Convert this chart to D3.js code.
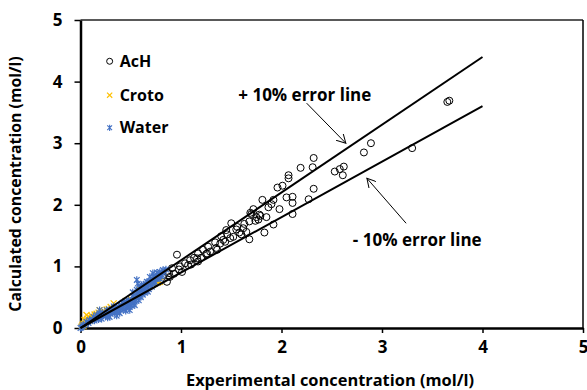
<!DOCTYPE html>
<html>
<head>
<meta charset="utf-8">
<script src="https://cdn.jsdelivr.net/npm/d3@7"></script>
<style>
  body { margin: 0; background: #fff; }
  svg text { font-family: "Open Sans", Lato, sans-serif; font-weight: bold; }
</style>
</head>
<body>
<div id="chart"></div>
<script>
// data (mol/l)
var achX = [3.65, 3.67, 3.30, 2.89, 2.82, 2.62, 2.58, 2.53, 2.61, 2.32, 2.31, 2.19, 2.32, 2.07, 2.07, 2.01, 1.96,
    2.11, 2.11, 2.27, 2.11, 1.92, 1.90, 1.87, 1.81, 1.92, 1.83, 1.72, 1.70, 1.79, 1.77, 1.68, 1.74, 1.63, 1.56,
    1.50, 1.58, 1.65, 1.45, 1.40, 1.49, 1.44, 1.68, 1.34, 1.27, 1.22, 1.26, 0.96, 1.69, 1.17, 1.09, 1.04, 0.99,
    0.91, 0.86, 0.82, 0.89, 1.01, 1.07, 1.16, 1.29, 1.39, 1.42, 0.86, 0.88, 0.98, 1.10, 1.17, 1.25, 1.35, 1.52,
    1.60, 1.55, 1.75, 1.85, 1.36, 1.20, 1.13, 0.93, 1.46, 1.62, 1.78, 1.98, 2.05];
var achY = [3.67, 3.69, 2.92, 3.00, 2.85, 2.62, 2.58, 2.54, 2.48, 2.76, 2.61, 2.60, 2.26, 2.48, 2.43, 2.31, 2.28,
    2.13, 2.03, 2.09, 1.85, 2.08, 2.01, 1.96, 2.08, 1.68, 1.55, 1.93, 1.85, 1.82, 1.76, 1.73, 1.74, 1.69, 1.64,
    1.70, 1.55, 1.56, 1.59, 1.49, 1.46, 1.40, 1.44, 1.39, 1.32, 1.27, 1.21, 1.19, 1.87, 1.21, 1.10, 1.05, 1.00,
    0.97, 0.91, 0.86, 0.83, 0.91, 1.02, 1.13, 1.24, 1.37, 1.43, 0.75, 0.89, 0.95, 1.03, 1.08, 1.20, 1.30, 1.48,
    1.52, 1.60, 1.80, 1.80, 1.27, 1.14, 1.14, 0.88, 1.52, 1.62, 1.84, 1.93, 2.12];

var crotoX = [0.01, 0.03, 0.04, 0.06, 0.05, 0.07, 0.08, 0.09, 0.10, 0.11, 0.12, 0.13, 0.14, 0.15, 0.16, 0.17, 0.18,
    0.19, 0.20, 0.22, 0.24, 0.26, 0.28, 0.33, 0.30, 0.45, 0.50, 0.55, 0.59, 0.62, 0.65, 0.69, 0.72, 0.77, 0.79,
    0.02, 0.03, 0.07, 0.11, 0.14, 0.21];
var crotoY = [0.02, 0.07, 0.13, 0.21, 0.10, 0.15, 0.18, 0.12, 0.16, 0.20, 0.17, 0.16, 0.22, 0.19, 0.23, 0.20, 0.25,
    0.29, 0.22, 0.27, 0.26, 0.30, 0.31, 0.40, 0.34, 0.44, 0.47, 0.52, 0.62, 0.60, 0.66, 0.70, 0.71, 0.74, 0.75,
    0.05, 0.03, 0.11, 0.14, 0.18, 0.24];

var waterX = [0.00, 0.03, 0.06, 0.09, 0.13, 0.16, 0.19, 0.23, 0.26, 0.29, 0.29, 0.33, 0.36, 0.39, 0.39, 0.43, 0.46,
    0.48, 0.49, 0.53, 0.54, 0.56, 0.56, 0.58, 0.59, 0.61, 0.62, 0.64, 0.66, 0.67, 0.69, 0.71, 0.72, 0.74, 0.76,
    0.77, 0.79, 0.82, 0.81, 0.05, 0.08, 0.10, 0.12, 0.15, 0.17, 0.20, 0.22, 0.24, 0.26, 0.28, 0.30, 0.31, 0.33,
    0.34, 0.35, 0.37, 0.38, 0.40, 0.41, 0.42, 0.44, 0.45, 0.46, 0.47, 0.48, 0.50, 0.51, 0.52, 0.53, 0.55, 0.56,
    0.57, 0.58, 0.60, 0.60, 0.62, 0.63, 0.65, 0.66, 0.68, 0.70, 0.71, 0.73, 0.75, 0.78, 0.80, 0.57, 0.52, 0.36,
    0.27, 0.21, 0.19, 0.01, 0.02, 0.14, 0.18, 0.25, 0.27, 0.32, 0.34, 0.37, 0.40, 0.43, 0.44, 0.47, 0.49, 0.50,
    0.54, 0.55, 0.58, 0.61, 0.63, 0.64, 0.67, 0.68, 0.70, 0.72, 0.74, 0.76, 0.79, 0.83, 0.85, 0.31, 0.42, 0.59,
    0.65, 0.53];
var waterY = [0.00, 0.05, 0.10, 0.13, 0.18, 0.21, 0.24, 0.21, 0.29, 0.29, 0.18, 0.35, 0.26, 0.37, 0.24, 0.40, 0.32,
    0.45, 0.29, 0.48, 0.37, 0.78, 0.62, 0.45, 0.56, 0.70, 0.54, 0.64, 0.75, 0.59, 0.83, 0.67, 0.89, 0.75, 0.86,
    0.81, 0.91, 0.94, 0.86, 0.06, 0.08, 0.11, 0.14, 0.15, 0.18, 0.19, 0.25, 0.22, 0.24, 0.26, 0.23, 0.31, 0.28,
    0.24, 0.32, 0.30, 0.34, 0.29, 0.36, 0.33, 0.38, 0.28, 0.42, 0.35, 0.39, 0.44, 0.36, 0.52, 0.41, 0.46, 0.50,
    0.55, 0.60, 0.50, 0.66, 0.58, 0.70, 0.61, 0.68, 0.72, 0.76, 0.80, 0.84, 0.80, 0.88, 0.84, 0.72, 0.58, 0.20,
    0.17, 0.15, 0.29, 0.01, 0.03, 0.12, 0.14, 0.19, 0.20, 0.25, 0.33, 0.27, 0.33, 0.30, 0.43, 0.40, 0.34, 0.41,
    0.43, 0.52, 0.51, 0.62, 0.65, 0.57, 0.74, 0.63, 0.70, 0.78, 0.72, 0.90, 0.80, 0.90, 0.95, 0.27, 0.41, 0.66,
    0.72, 0.46];

// +/- 10% error lines
var errFactor = [1.1, 0.9];
var errRange = [0, 4];

var ticks = [0, 1, 2, 3, 4, 5];
var seriesNames = ["AcH", "Croto", "Water"];
var seriesColors = ["#000000", "#FFC000", "#4472C4"];

var width = 587, height = 390;

var svg = d3.select("#chart")
    .append("svg")
    .attr("width", width)
    .attr("height", height);

var x = d3.scaleLinear().domain([0, 5]).range([80.5, 583]);
var y = d3.scaleLinear().domain([0, 5]).range([328, 20]);

// frame: gray top, thin black right
svg.append("line")
    .attr("x1", x(0)).attr("x2", x(5)).attr("y1", y(5)).attr("y2", y(5))
    .attr("stroke", "#595959").attr("stroke-width", 2);
svg.append("line")
    .attr("x1", x(5)).attr("x2", x(5)).attr("y1", y(5)).attr("y2", y(0))
    .attr("stroke", "#000").attr("stroke-width", 1.5);

// axes
var xAxis = svg.append("g")
    .attr("transform", "translate(0," + y(0) + ")")
    .call(d3.axisBottom(x).tickValues(ticks).tickFormat(d3.format("d"))
        .tickSize(5).tickPadding(8).tickSizeOuter(0));
var yAxis = svg.append("g")
    .attr("transform", "translate(" + x(0) + ",0)")
    .call(d3.axisLeft(y).tickValues(ticks).tickFormat(d3.format("d"))
        .tickSize(6).tickPadding(12).tickSizeOuter(0));

[xAxis, yAxis].forEach(function (g) {
    g.select(".domain").attr("stroke", "#000").attr("stroke-width", 2.5);
    g.selectAll(".tick line").attr("stroke", "#000").attr("stroke-width", 1.5);
    g.selectAll(".tick text")
        .attr("fill", "#000")
        .style("font-size", "17px");
});

// AcH circles
svg.append("g").selectAll("circle")
    .data(achX)
    .enter().append("circle")
    .attr("cx", function (d) { return x(d); })
    .attr("cy", function (d, i) { return y(achY[i]); })
    .attr("r", 3.5)
    .attr("fill", "none")
    .attr("stroke", "#000")
    .attr("stroke-width", 1);

// marker shapes
function crossPath(cx, cy, s) {
    return "M" + (cx - s) + "," + (cy - s) + "L" + (cx + s) + "," + (cy + s) +
        "M" + (cx - s) + "," + (cy + s) + "L" + (cx + s) + "," + (cy - s);
}
function starPath(cx, cy, s) {
    return crossPath(cx, cy, s) + "M" + cx + "," + (cy - s * 1.3) + "L" + cx + "," + (cy + s * 1.3);
}

// Croto x-marks
svg.append("g").selectAll("path")
    .data(crotoX)
    .enter().append("path")
    .attr("d", function (d, i) { return crossPath(x(d), y(crotoY[i]), 3); })
    .attr("stroke", seriesColors[1])
    .attr("stroke-width", 1.3)
    .attr("fill", "none");

// Water stars
svg.append("g").selectAll("path")
    .data(waterX)
    .enter().append("path")
    .attr("d", function (d, i) { return starPath(x(d), y(waterY[i]), 2.8); })
    .attr("stroke", seriesColors[2])
    .attr("stroke-width", 1.2)
    .attr("fill", "none");

// error lines
svg.append("g").selectAll("line")
    .data(errFactor)
    .enter().append("line")
    .attr("x1", x(errRange[0]))
    .attr("y1", function (f) { return y(errRange[0] * f); })
    .attr("x2", x(errRange[1]))
    .attr("y2", function (f) { return y(errRange[1] * f); })
    .attr("stroke", "#000")
    .attr("stroke-width", 2);

// legend
var legendY = [4.33, 3.78, 3.25];
var legend = svg.append("g");
seriesNames.forEach(function (name, i) {
    var cx = x(0.29), cy = y(legendY[i]);
    if (i === 0) {
        legend.append("circle").attr("cx", cx).attr("cy", cy).attr("r", 3)
            .attr("fill", "none").attr("stroke", "#000").attr("stroke-width", 1);
    } else if (i === 1) {
        legend.append("path").attr("d", crossPath(cx, cy, 2.6))
            .attr("stroke", seriesColors[1]).attr("stroke-width", 1.2);
    } else {
        legend.append("path").attr("d", starPath(cx, cy, 2.4))
            .attr("stroke", seriesColors[2]).attr("stroke-width", 1.1);
    }
    legend.append("text")
        .attr("x", cx + 10)
        .attr("y", cy)
        .attr("dy", "0.35em")
        .style("font-size", "16px")
        .text(name);
});

// annotations with arrows
svg.append("defs").append("marker")
    .attr("id", "arrow")
    .attr("viewBox", "0 0 10 10")
    .attr("refX", 9).attr("refY", 5)
    .attr("markerWidth", 10).attr("markerHeight", 10)
    .attr("markerUnits", "userSpaceOnUse")
    .attr("orient", "auto")
    .append("path")
    .attr("d", "M0,0 L9,5 L0,10")
    .attr("fill", "none")
    .attr("stroke", "#000")
    .attr("stroke-width", 1);

var notes = [
    {text: "+ 10% error line", tx: 1.57, ty: 3.78, x1: 2.25, y1: 3.65, x2: 2.64, y2: 3.0},
    {text: "- 10% error line", tx: 2.71, ty: 1.43, x1: 3.24, y1: 1.70, x2: 2.85, y2: 2.43}
];
notes.forEach(function (n) {
    svg.append("line")
        .attr("x1", x(n.x1)).attr("y1", y(n.y1))
        .attr("x2", x(n.x2)).attr("y2", y(n.y2))
        .attr("stroke", "#000").attr("stroke-width", 1)
        .attr("marker-end", "url(#arrow)");
    svg.append("text")
        .attr("x", x(n.tx))
        .attr("y", y(n.ty))
        .attr("dy", "0.35em")
        .style("font-size", "17px")
        .text(n.text);
});

// axis titles
svg.append("text")
    .attr("x", 330)
    .attr("y", 386)
    .attr("text-anchor", "middle")
    .style("font-size", "16.4px")
    .text("Experimental concentration (mol/l)");

svg.append("text")
    .attr("transform", "translate(21,184) rotate(-90)")
    .attr("text-anchor", "middle")
    .style("font-size", "15.8px")
    .text("Calculated concentration (mol/l)");
</script>
</body>
</html>
